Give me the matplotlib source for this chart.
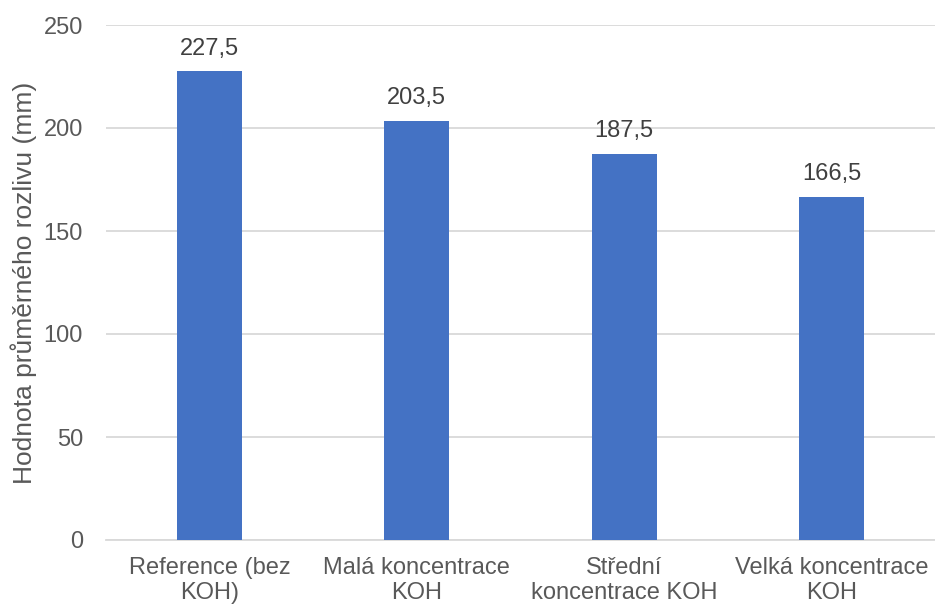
import matplotlib
matplotlib.use("Agg")
import matplotlib.pyplot as plt

categories = ["Reference (bez\nKOH)", "Malá koncentrace\nKOH", "Střední\nkoncentrace KOH", "Velká koncentrace\nKOH"]
values = [227.5, 203.5, 187.5, 166.5]
value_labels = ["227,5", "203,5", "187,5", "166,5"]
yticks = [0, 50, 100, 150, 200, 250]

plt.rcParams['font.family'] = ['Liberation Sans', 'DejaVu Sans']

fig = plt.figure(figsize=(9.35, 6.05), dpi=100)
ax = fig.add_axes([106/935, 65/605, (935-106)/935, 515/605])

x = list(range(len(categories)))
ax.bar(x, values, width=0.314, color='#4472C4', zorder=3)
for xi, v, lab in zip(x, values, value_labels):
    ax.annotate(lab, (xi, v), xytext=(0, 12), textcoords='offset points',
                ha='center', va='baseline', fontsize=17, color='#404040')

ax.set_xlim(-0.5, len(categories) - 0.5)
ax.set_ylim(0, 250)
ax.set_yticks(yticks)
ax.set_yticklabels([str(t) for t in yticks], fontsize=17, color='#595959')
ax.set_xticks(x)
ax.set_xticklabels(categories, fontsize=17, color='#595959', linespacing=1.22)
ax.yaxis.grid(True, color='#D9D9D9', linewidth=1.3, zorder=0)
for s in ['top', 'right', 'left']:
    ax.spines[s].set_visible(False)
ax.spines['bottom'].set_color('#D9D9D9')
ax.spines['bottom'].set_linewidth(1.3)
ax.tick_params(axis='y', length=0, pad=16.5)
ax.tick_params(axis='x', length=0, pad=12)
fig.text(32/935, 1 - 282.5/605, "Hodnota průměrného rozlivu (mm)", rotation=90,
         rotation_mode='anchor', ha='center', va='baseline', fontsize=19, color='#595959')

fig.savefig("out.png", dpi=100)
